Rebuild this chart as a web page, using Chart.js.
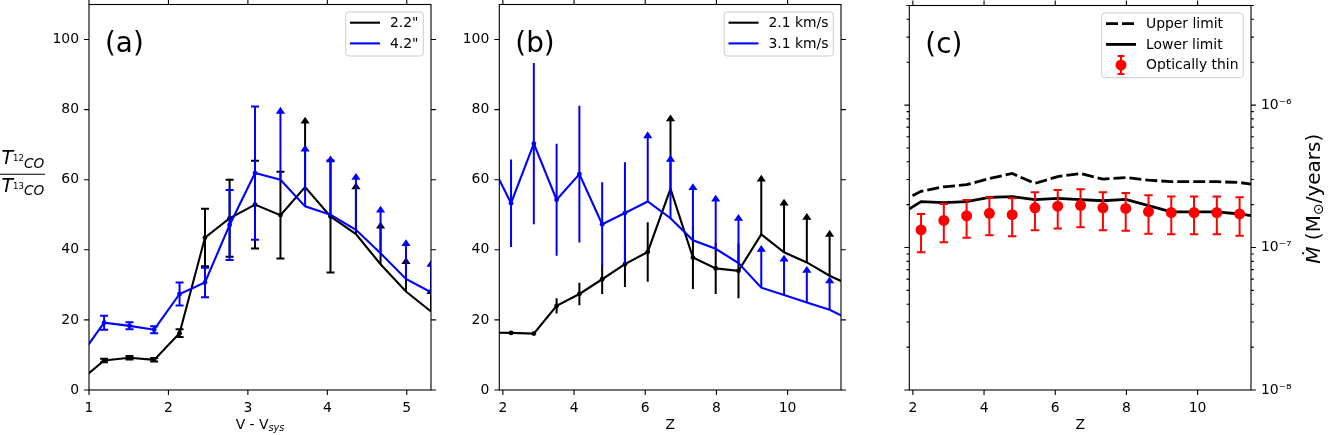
<!DOCTYPE html>
<html>
<head>
<meta charset="utf-8">
<title>Line ratio and mass-loss rate</title>
<script src="https://cdn.jsdelivr.net/npm/chart.js"></script>
<style>
  html, body { margin: 0; padding: 0; background: #ffffff; }
  #wrap { position: relative; width: 1328px; height: 435px; overflow: hidden; }
  #wrap canvas { position: absolute; left: 0; top: 0; }
</style>
</head>
<body>
<div id="wrap">
  <canvas id="panelA" width="1328" height="435"></canvas>
  <canvas id="panelB" width="1328" height="435"></canvas>
  <canvas id="panelC" width="1328" height="435"></canvas>
</div>
<script>
// ---- data ----

// (a) T12CO / T13CO against V - Vsys, two beam sizes
const velA     = [0.873, 1.19, 1.51, 1.82, 2.14, 2.46, 2.77, 3.09, 3.41, 3.72, 4.04, 4.36, 4.67, 4.99, 5.305];
const ratioA22 = [2.4, 8.4, 9.2, 8.6, 16.2, 43.5, 49.0, 52.9, 49.9, 57.9, 49.5, 44.5, 35.9, 28.1, 22.4];
const errA22   = [0, 0.5, 0.5, 0.5, 1.1, 8.2, 11.0, 12.5, 12.4, 0, 16.0, 0, 0, 0, 0];
const limA22   = [null, null, null, null, null, null, null, null, null, 78.0, null, 59.2, 48.0, 37.9, 29.3];
const ratioA42 = [9.1, 19.2, 18.3, 17.2, 27.4, 30.7, 47.1, 61.9, 60.0, 52.4, 50.0, 45.7, 39.0, 31.7, 27.9];
const errA42   = [0, 2.0, 1.0, 1.0, 3.3, 4.2, 10.0, 19.0, 0, 0, 0, 0, 0, 0, 0];
const limA42   = [null, null, null, null, null, null, null, null, 80.8, 70.0, 66.9, 61.9, 52.6, 43.0, 37.1];

// (b) T12CO / T13CO against Z, two velocity bins
const zB       = [1.59, 2.23, 2.87, 3.51, 4.15, 4.79, 5.43, 6.07, 6.71, 7.34, 7.98, 8.62, 9.26, 9.90, 10.54, 11.18, 11.82];
const ratioB21 = [16.4, 16.3, 16.1, 24.0, 27.4, 31.6, 35.9, 39.4, 57.4, 37.8, 34.7, 34.0, 44.4, 39.3, 36.4, 32.6, 29.6];
const errB21   = [0, 0.5, 0.5, 2.2, 3.2, 4.2, 6.5, 8.5, 0, 9.0, 7.3, 7.8, 0, 0, 0, 0, 0];
const limB21   = [null, null, null, null, null, null, null, null, 78.6, null, null, null, 61.4, 54.6, 50.5, 45.7, null];
const ratioB31 = [66.3, 53.3, 70.3, 54.3, 61.6, 47.3, 50.5, 53.8, 49.0, 42.7, 40.3, 36.2, 29.2, 27.1, 25.0, 22.9, 19.7];
const errB31   = [0, 12.5, 23.0, 16.0, 19.5, 12.0, 14.5, 0, 0, 0, 0, 0, 0, 0, 0, 0, 0];
const limB31   = [null, null, null, null, null, null, null, 73.8, 67.1, 59.0, 55.7, 50.2, 41.4, 38.6, 35.4, 32.4, null];

// (c) mass-loss rate against Z
const mdotUpper = [2.05e-7, 2.48e-7, 2.67e-7, 2.76e-7, 3.05e-7, 3.31e-7, 2.82e-7, 3.15e-7, 3.31e-7, 3.02e-7, 3.10e-7, 2.97e-7, 2.90e-7, 2.90e-7, 2.90e-7, 2.86e-7, 2.71e-7];
const mdotLower = [1.67e-7, 2.10e-7, 2.07e-7, 2.10e-7, 2.25e-7, 2.28e-7, 2.17e-7, 2.21e-7, 2.17e-7, 2.13e-7, 2.18e-7, 1.97e-7, 1.78e-7, 1.78e-7, 1.78e-7, 1.72e-7, 1.63e-7];
const zThin    = [2.23, 2.87, 3.51, 4.15, 4.79, 5.43, 6.07, 6.71, 7.34, 7.98, 8.62, 9.26, 9.90, 10.54, 11.18];
const mdotThin = [1.33e-7, 1.55e-7, 1.67e-7, 1.74e-7, 1.70e-7, 1.90e-7, 1.95e-7, 1.98e-7, 1.90e-7, 1.88e-7, 1.79e-7, 1.76e-7, 1.76e-7, 1.76e-7, 1.72e-7];
const thinLo   = [9.27e-8, 1.09e-7, 1.17e-7, 1.22e-7, 1.20e-7, 1.32e-7, 1.36e-7, 1.39e-7, 1.32e-7, 1.31e-7, 1.25e-7, 1.24e-7, 1.24e-7, 1.24e-7, 1.21e-7];
const thinHi   = [1.72e-7, 2.02e-7, 2.16e-7, 2.25e-7, 2.22e-7, 2.44e-7, 2.53e-7, 2.57e-7, 2.44e-7, 2.41e-7, 2.33e-7, 2.28e-7, 2.28e-7, 2.28e-7, 2.25e-7];

// ticks
const ratioTicks = [0, 20, 40, 60, 80, 100];
const velTicks = [1, 2, 3, 4, 5];
const zTicks = [2, 4, 6, 8, 10];
const mdotTicks = [1e-8, 1e-7, 1e-6];
const mdotTickLabels = ['10⁻⁸', '10⁻⁷', '10⁻⁶'];
const mdotMinor = [];
mdotTicks.forEach(d => { for (let k = 2; k <= 9; k++) mdotMinor.push(k * d); });

const FONT = "'DejaVu Sans', sans-serif";
Chart.defaults.font.family = FONT;
Chart.defaults.font.size = 13.9;
Chart.defaults.color = '#000';
Chart.defaults.animation = false;
Chart.defaults.events = [];
Chart.defaults.plugins.legend.display = false;
Chart.defaults.plugins.tooltip.enabled = false;

const BLACK = '#000000', BLUE = '#0000ff', RED = '#ff0000';

function pts(xs, ys) { return xs.map((x, i) => ({x: x, y: ys[i]})); }
function lowEnd(vals, errs) { return vals.map((v, i) => errs[i] ? v - errs[i] : null); }
function highEnd(vals, errs) { return vals.map((v, i) => errs[i] ? v + errs[i] : null); }

function setTicks(list) {
  return scale => { scale.ticks = list.map(v => ({value: v})); };
}
function fixSize(w, h) {
  return scale => {
    if (w != null) scale.width = w;
    if (h != null) scale.height = h;
    scale.paddingLeft = scale.paddingRight = scale.paddingTop = scale.paddingBottom = 0;
  };
}
function axis(type, min, max, ticks, extra) {
  return Object.assign({
    type: type, min: min, max: max, bounds: 'data',
    grid: {display: false, drawTicks: false},
    border: {display: false},
    ticks: {padding: 10, autoSkip: false, maxRotation: 0},
    afterBuildTicks: setTicks(ticks)
  }, extra);
}

function lineSet(label, xs, ys, errs, lims, color, order) {
  return {
    label: label,
    data: pts(xs, ys),
    borderColor: color,
    backgroundColor: color,
    pointBackgroundColor: color,
    borderWidth: 2.1,
    pointBorderWidth: 0,
    pointRadius: c => (lims[c.dataIndex] == null ? 2.4 : 0),
    tension: 0,
    clip: 0,
    order: order,
    errLo: lowEnd(ys, errs),
    errHi: highEnd(ys, errs),
    limTop: lims,
    errWidth: 2,
    capHalf: 0
  };
}

// frame and tick marks on all four sides
const frameTicks = {
  id: 'frameTicks',
  afterDraw(chart, args, opts) {
    const {ctx, chartArea: a} = chart;
    const xs = chart.scales.x, ys = chart.scales.y;
    ctx.save();
    ctx.strokeStyle = '#000';
    ctx.lineWidth = 1.1;
    ctx.strokeRect(a.left, a.top, a.right - a.left, a.bottom - a.top);
    ctx.beginPath();
    xs.ticks.forEach(t => {
      const px = xs.getPixelForValue(t.value);
      ctx.moveTo(px, a.bottom); ctx.lineTo(px, a.bottom + 4.9);
      ctx.moveTo(px, a.top); ctx.lineTo(px, a.top - 4.9);
    });
    ys.ticks.forEach(t => {
      const py = ys.getPixelForValue(t.value);
      ctx.moveTo(a.left, py); ctx.lineTo(a.left - 4.9, py);
      ctx.moveTo(a.right, py); ctx.lineTo(a.right + 4.9, py);
    });
    (opts.minorY || []).forEach(v => {
      const py = ys.getPixelForValue(v);
      if (py < a.top || py > a.bottom) return;
      ctx.moveTo(a.left, py); ctx.lineTo(a.left - 2.8, py);
      ctx.moveTo(a.right, py); ctx.lineTo(a.right + 2.8, py);
    });
    ctx.stroke();
    ctx.restore();
  }
};

// error bars and lower-limit arrows, drawn right after each dataset
const errorBars = {
  id: 'errorBars',
  afterDatasetDraw(chart, args) {
    const ds = chart.data.datasets[args.index];
    if (!ds.errLo && !ds.limTop) return;
    const {ctx, chartArea: a} = chart;
    const xs = chart.scales.x, ys = chart.scales.y;
    const cap = ds.capHalf || 0;
    ctx.save();
    ctx.beginPath();
    ctx.rect(a.left, a.top, a.right - a.left, a.bottom - a.top);
    ctx.clip();
    ctx.strokeStyle = ds.pointBackgroundColor;
    ctx.fillStyle = ds.pointBackgroundColor;
    ctx.lineWidth = ds.errWidth;
    ctx.setLineDash([]);
    ds.data.forEach((p, i) => {
      const px = xs.getPixelForValue(p.x);
      if (ds.errLo && ds.errLo[i] != null) {
        const y1 = ys.getPixelForValue(ds.errLo[i]);
        const y2 = ys.getPixelForValue(ds.errHi[i]);
        ctx.beginPath();
        ctx.moveTo(px, y1); ctx.lineTo(px, y2);
        if (cap) {
          ctx.moveTo(px - cap, y1); ctx.lineTo(px + cap, y1);
          ctx.moveTo(px - cap, y2); ctx.lineTo(px + cap, y2);
        }
        ctx.stroke();
      }
      if (ds.limTop && ds.limTop[i] != null) {
        const y0 = ys.getPixelForValue(p.y);
        const yt = ys.getPixelForValue(ds.limTop[i]);
        ctx.beginPath();
        ctx.moveTo(px, y0); ctx.lineTo(px, yt + 4);
        ctx.stroke();
        ctx.beginPath();
        ctx.moveTo(px, yt);
        ctx.lineTo(px - 4.6, yt + 6.8);
        ctx.lineTo(px + 4.6, yt + 6.8);
        ctx.closePath();
        ctx.fill();
      }
    });
    ctx.restore();
  }
};

const legendBox = {
  id: 'legendBox',
  afterDraw(chart, args, opts) {
    const {ctx, chartArea: a} = chart;
    const sets = opts.order.map(i => chart.data.datasets[i]);
    ctx.save();
    ctx.font = '13.9px ' + FONT;
    const tw = Math.max(...sets.map(d => ctx.measureText(d.label).width));
    const right = a.right - 7.7, top = a.top + 7.5;
    const left = right - tw - 49.1;
    const h = sets.length * 20.7 + 2.6;
    ctx.beginPath();
    ctx.roundRect(left, top, right - left, h, 3);
    ctx.fillStyle = 'rgba(255,255,255,0.8)';
    ctx.fill();
    ctx.strokeStyle = '#cccccc';
    ctx.lineWidth = 1;
    ctx.stroke();
    sets.forEach((d, k) => {
      const y = top + 10.7 + k * 20.7;
      ctx.strokeStyle = d.pointBackgroundColor;
      ctx.fillStyle = d.pointBackgroundColor;
      if (d.showLine === false) {
        const cx = left + 19.3;
        ctx.lineWidth = d.errWidth;
        ctx.setLineDash([]);
        ctx.beginPath();
        ctx.moveTo(cx, y - 9); ctx.lineTo(cx, y + 9);
        ctx.moveTo(cx - 3.4, y - 9); ctx.lineTo(cx + 3.4, y - 9);
        ctx.moveTo(cx - 3.4, y + 9); ctx.lineTo(cx + 3.4, y + 9);
        ctx.stroke();
        ctx.beginPath();
        ctx.arc(cx, y, d.pointRadius, 0, Math.PI * 2);
        ctx.fill();
      } else {
        ctx.lineWidth = d.borderWidth;
        ctx.setLineDash(d.borderDash || []);
        ctx.beginPath();
        ctx.moveTo(left + 4.3, y); ctx.lineTo(left + 34.3, y);
        ctx.stroke();
        ctx.setLineDash([]);
      }
      ctx.fillStyle = '#000';
      ctx.textAlign = 'left';
      ctx.textBaseline = 'middle';
      ctx.fillText(d.label, left + 44.3, y + 0.5);
    });
    ctx.restore();
  }
};

// text made of runs with different fonts / offsets
function drawRuns(ctx, runs, x, y, align) {
  let total = 0;
  runs.forEach(r => { ctx.font = r.f + ' ' + FONT; r.w = ctx.measureText(r.t).width; total += r.w; });
  let cur = align === 'center' ? x - total / 2 : x;
  ctx.textAlign = 'left';
  ctx.textBaseline = 'alphabetic';
  runs.forEach(r => {
    ctx.font = r.f + ' ' + FONT;
    ctx.fillText(r.t, cur, y + (r.dy || 0));
    cur += r.w;
  });
}

const decor = {
  id: 'decor',
  afterDraw(chart, args, opts) {
    const {ctx, chartArea: a} = chart;
    ctx.save();
    ctx.fillStyle = '#000';
    ctx.font = '27.8px ' + FONT;
    ctx.textAlign = 'left';
    ctx.textBaseline = 'alphabetic';
    ctx.fillText(opts.panel, a.left + 16, a.top + 47);
    drawRuns(ctx, opts.xTitle, (a.left + a.right) / 2, 428.5, 'center');
    if (opts.fraction) {
      drawRuns(ctx, [{t: 'T', f: 'italic 19px'}, {t: '12', f: '8.5px', dy: -3}, {t: 'CO', f: 'italic 13.7px', dy: 3.5}], 1.5, 164, 'left');
      drawRuns(ctx, [{t: 'T', f: 'italic 19px'}, {t: '13', f: '8.5px', dy: -3}, {t: 'CO', f: 'italic 13.7px', dy: 3.5}], 1.5, 191.5, 'left');
      ctx.strokeStyle = '#000';
      ctx.lineWidth = 1.1;
      ctx.beginPath();
      ctx.moveTo(0, 174.3); ctx.lineTo(45, 174.3);
      ctx.stroke();
    }
    if (opts.rightTitle) {
      ctx.translate(a.right + 69, (a.top + a.bottom) / 2 + 1);
      ctx.rotate(-Math.PI / 2);
      drawRuns(ctx, opts.rightTitle, 0, 0, 'center');
    }
    ctx.restore();
  }
};

// ---- panel (a) ----
new Chart(document.getElementById('panelA'), {
  type: 'line',
  data: {
    datasets: [
      lineSet('2.2"', velA, ratioA22, errA22, limA22, BLACK, 2),
      lineSet('4.2"', velA, ratioA42, errA42, limA42, BLUE, 1)
    ].map(d => Object.assign(d, {capHalf: 4}))
  },
  options: {
    responsive: false,
    devicePixelRatio: 1,
    layout: {padding: {left: 40, right: 897, top: 4.5, bottom: 0}},
    scales: {
      x: axis('linear', 1, 5.305, velTicks, {afterFit: fixSize(null, 45)}),
      y: axis('linear', 0, 110, ratioTicks, {afterFit: fixSize(49, null)})
    },
    plugins: {
      legendBox: {order: [0, 1]},
      frameTicks: {},
      decor: {panel: '(a)', fraction: true,
        xTitle: [{t: 'V - V', f: '13.9px'}, {t: 'sys', f: 'italic 9.7px', dy: 2.5}]}
    }
  },
  plugins: [errorBars, frameTicks, legendBox, decor]
});

// ---- panel (b) ----
new Chart(document.getElementById('panelB'), {
  type: 'line',
  data: {
    datasets: [
      lineSet('2.1 km/s', zB, ratioB21, errB21, limB21, BLACK, 2),
      lineSet('3.1 km/s', zB, ratioB31, errB31, limB31, BLUE, 1)
    ]
  },
  options: {
    responsive: false,
    devicePixelRatio: 1,
    layout: {padding: {left: 450.3, right: 487, top: 4.5, bottom: 0}},
    scales: {
      x: axis('linear', 1.9, 11.5, zTicks, {afterFit: fixSize(null, 45)}),
      y: axis('linear', 0, 110, ratioTicks, {afterFit: fixSize(49, null)})
    },
    plugins: {
      legendBox: {order: [0, 1]},
      frameTicks: {},
      decor: {panel: '(b)', xTitle: [{t: 'Z', f: '13.9px'}]}
    }
  },
  plugins: [errorBars, frameTicks, legendBox, decor]
});

// ---- panel (c) ----
new Chart(document.getElementById('panelC'), {
  type: 'line',
  data: {
    datasets: [
      {label: 'Upper limit', data: pts(zB, mdotUpper), borderColor: BLACK, pointBackgroundColor: BLACK,
       borderWidth: 2.8, borderDash: [12, 4], pointRadius: 0, tension: 0, clip: 0, order: 3},
      {label: 'Lower limit', data: pts(zB, mdotLower), borderColor: BLACK, pointBackgroundColor: BLACK,
       borderWidth: 2.8, pointRadius: 0, tension: 0, clip: 0, order: 2},
      {label: 'Optically thin', data: pts(zThin, mdotThin), showLine: false, borderColor: RED,
       pointBackgroundColor: RED, pointBorderWidth: 0, pointRadius: 5.5, clip: 0, order: 1,
       errLo: thinLo, errHi: thinHi, errWidth: 2, capHalf: 4.2}
    ]
  },
  options: {
    responsive: false,
    devicePixelRatio: 1,
    layout: {padding: {left: 909.3, right: 27, top: 4.5, bottom: 0}},
    scales: {
      x: axis('linear', 1.9, 11.5, zTicks, {afterFit: fixSize(null, 45)}),
      y: axis('logarithmic', 1e-8, 5e-6, mdotTicks, {
        position: 'right',
        afterFit: fixSize(50, null),
        ticks: {padding: 10, autoSkip: false, maxRotation: 0, callback: (v, i) => mdotTickLabels[i]}
      })
    },
    plugins: {
      legendBox: {order: [0, 1, 2]},
      frameTicks: {minorY: mdotMinor},
      decor: {panel: '(c)', xTitle: [{t: 'Z', f: '13.9px'}],
        rightTitle: [{t: 'Ṁ', f: 'italic 20px'}, {t: ' (M', f: '20px'}, {t: '⊙', f: '14px', dy: 3}, {t: '/years)', f: '20px'}]}
    }
  },
  plugins: [errorBars, frameTicks, legendBox, decor]
});
</script>
</body>
</html>
